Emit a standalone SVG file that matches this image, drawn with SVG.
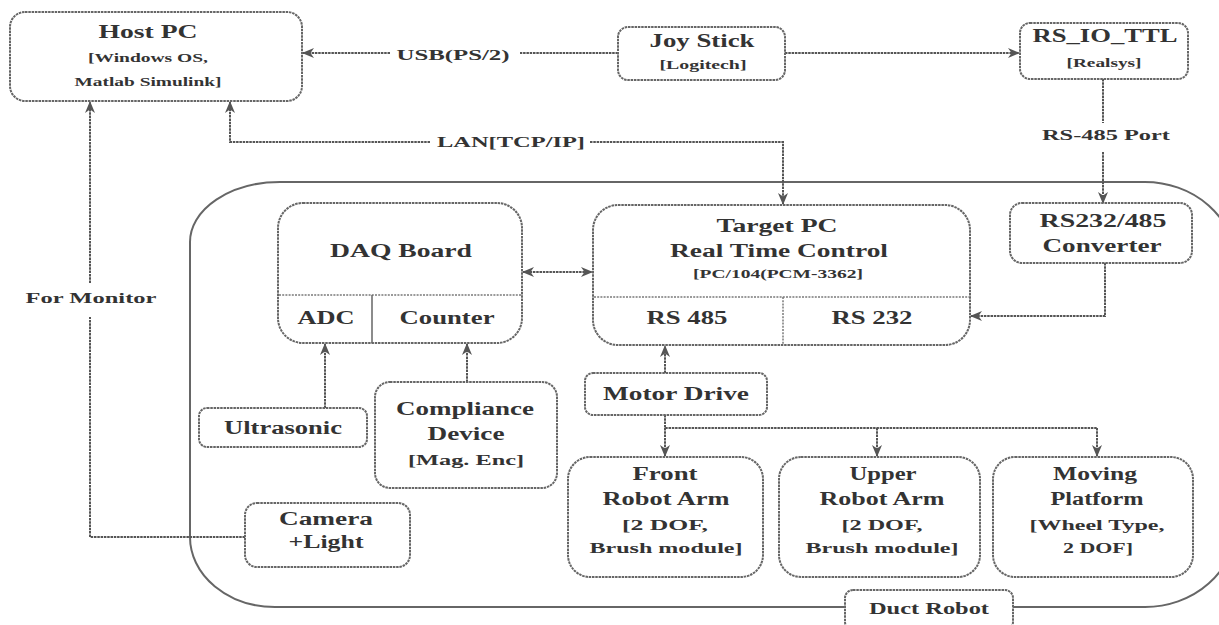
<svg xmlns="http://www.w3.org/2000/svg" width="1219" height="625" viewBox="0 0 1219 625">
<style>
.box{fill:#fff;stroke:#666;stroke-width:2;stroke-dasharray:2.5 0.8}
.div{fill:none;stroke:#7a7a7a;stroke-width:1.5;stroke-dasharray:2 1.2}
.vdiv{fill:none;stroke:#666;stroke-width:1.5}
.outer{fill:none;stroke:#666;stroke-width:2}
.ln{fill:none;stroke:#555;stroke-width:2;stroke-dasharray:2.5 0.8}
.t{font-family:"Liberation Serif","Times New Roman",serif;font-weight:bold;fill:#333;text-anchor:middle}
.l{font-size:18px}.m{font-size:15px}.s{font-size:12px}
</style>
<defs>
<marker id="ah" viewBox="0 0 12 10" refX="11" refY="5" markerWidth="12" markerHeight="10" markerUnits="userSpaceOnUse" orient="auto-start-reverse">
<path d="M0,0 L12,5 L0,10 L3.5,5 Z" fill="#555"/>
</marker>
</defs>

<g id="duct-robot-region">
<path class="outer" d="M190,242 A90,60 0 0 1 280,182 H1145 A90,80 0 0 1 1235,262 V527 A90,80 0 0 1 1145,607 H275 A85,70 0 0 1 190,537 Z"/>
</g>

<g id="connectors">
<path class="ln" d="M618,53 H520" />
<path class="ln" d="M390,53 H303" marker-end="url(#ah)"/>
<path class="ln" d="M785,53 H1019" marker-end="url(#ah)"/>
<path class="ln" d="M1103,79 V123" />
<path class="ln" d="M1103,152 V203" marker-end="url(#ah)"/>
<path class="ln" d="M430,142 H230 V102" marker-end="url(#ah)"/>
<path class="ln" d="M590,142 H783 V204" marker-end="url(#ah)"/>
<path class="ln" d="M245,537 H90 V317" />
<path class="ln" d="M90,283 V102" marker-end="url(#ah)"/>
<path class="ln" d="M523,272 H592" marker-start="url(#ah)" marker-end="url(#ah)"/>
<path class="ln" d="M325,408 V344" marker-end="url(#ah)"/>
<path class="ln" d="M467,382 V344" marker-end="url(#ah)"/>
<path class="ln" d="M665,373 V346" marker-end="url(#ah)"/>
<path class="ln" d="M665,415 V428 H1097" />
<path class="ln" d="M665,428 V456" marker-end="url(#ah)"/>
<path class="ln" d="M877,428 V456" marker-end="url(#ah)"/>
<path class="ln" d="M1097,428 V456" marker-end="url(#ah)"/>
<path class="ln" d="M1105,263 V316 H971" marker-end="url(#ah)"/>
<text class="t m" x="453" y="60" textLength="113" lengthAdjust="spacingAndGlyphs">USB(PS/2)</text>
<text class="t m" x="1106" y="140" textLength="128" lengthAdjust="spacingAndGlyphs">RS-485 Port</text>
<text class="t m" x="511" y="147" textLength="148" lengthAdjust="spacingAndGlyphs">LAN[TCP/IP]</text>
<text class="t m" x="91" y="303" textLength="131" lengthAdjust="spacingAndGlyphs">For Monitor</text>
</g>

<g id="host-pc">
<rect class="box" x="10" y="12" width="292" height="89" rx="15"/>
<text class="t" style="font-size:19px" x="148" y="38" textLength="99" lengthAdjust="spacingAndGlyphs">Host PC</text>
<text class="t" style="font-size:13px" x="148" y="62" textLength="120" lengthAdjust="spacingAndGlyphs">[Windows OS,</text>
<text class="t" style="font-size:13px" x="148" y="86" textLength="147" lengthAdjust="spacingAndGlyphs">Matlab Simulink]</text>
</g>

<g id="joy-stick">
<rect class="box" x="618" y="27" width="167" height="53" rx="10"/>
<text class="t l" x="702" y="47" textLength="105" lengthAdjust="spacingAndGlyphs">Joy Stick</text>
<text class="t s" x="703" y="69" textLength="87" lengthAdjust="spacingAndGlyphs">[Logitech]</text>
</g>

<g id="rs-io-ttl">
<rect class="box" x="1020" y="23" width="168" height="56" rx="10"/>
<text class="t l" x="1105" y="42" textLength="145" lengthAdjust="spacingAndGlyphs">RS_IO_TTL</text>
<text class="t s" x="1104" y="67" textLength="75" lengthAdjust="spacingAndGlyphs">[Realsys]</text>
</g>

<g id="converter">
<rect class="box" x="1010" y="203" width="182" height="60" rx="12"/>
<text class="t l" x="1103" y="227" textLength="127" lengthAdjust="spacingAndGlyphs">RS232/485</text>
<text class="t l" x="1102" y="252" textLength="119" lengthAdjust="spacingAndGlyphs">Converter</text>
</g>

<g id="daq-board">
<rect class="box" x="278" y="203" width="244" height="140" rx="25"/>
<path class="div" d="M279,295 H521"/>
<path class="vdiv" d="M372,295 V343"/>
<text class="t l" x="401" y="257" textLength="142" lengthAdjust="spacingAndGlyphs">DAQ Board</text>
<text class="t l" x="326" y="324" textLength="57" lengthAdjust="spacingAndGlyphs">ADC</text>
<text class="t l" x="447" y="324" textLength="95" lengthAdjust="spacingAndGlyphs">Counter</text>
</g>

<g id="target-pc">
<rect class="box" x="593" y="205" width="377" height="140" rx="25"/>
<path class="div" d="M594,297 H969"/>
<path class="div" d="M783,297 V345"/>
<text class="t l" x="777" y="232" textLength="121" lengthAdjust="spacingAndGlyphs">Target PC</text>
<text class="t l" x="779" y="257" textLength="218" lengthAdjust="spacingAndGlyphs">Real Time  Control</text>
<text class="t s" x="778" y="278" textLength="170" lengthAdjust="spacingAndGlyphs">[PC/104(PCM-3362]</text>
<text class="t l" x="687" y="324" textLength="81" lengthAdjust="spacingAndGlyphs">RS 485</text>
<text class="t l" x="872" y="324" textLength="81" lengthAdjust="spacingAndGlyphs">RS 232</text>
</g>

<g id="motor-drive">
<rect class="box" x="585" y="373" width="182" height="42" rx="8"/>
<text class="t l" x="676" y="400" textLength="146" lengthAdjust="spacingAndGlyphs">Motor Drive</text>
</g>

<g id="ultrasonic">
<rect class="box" x="199" y="408" width="168" height="39" rx="8"/>
<text class="t l" x="283" y="434" textLength="118" lengthAdjust="spacingAndGlyphs">Ultrasonic</text>
</g>

<g id="compliance-device">
<rect class="box" x="375" y="382" width="182" height="106" rx="15"/>
<text class="t l" x="465" y="415" textLength="138" lengthAdjust="spacingAndGlyphs">Compliance</text>
<text class="t l" x="466" y="440" textLength="77" lengthAdjust="spacingAndGlyphs">Device</text>
<text class="t m" x="466" y="465" textLength="116" lengthAdjust="spacingAndGlyphs">[Mag. Enc]</text>
</g>

<g id="camera-light">
<rect class="box" x="245" y="503" width="165" height="64" rx="12"/>
<text class="t l" x="326" y="525" textLength="94" lengthAdjust="spacingAndGlyphs">Camera</text>
<text class="t l" x="326" y="548" textLength="75" lengthAdjust="spacingAndGlyphs">+Light</text>
</g>

<g id="front-robot-arm">
<rect class="box" x="568" y="457" width="195" height="120" rx="22"/>
<text class="t l" x="665" y="480" textLength="65" lengthAdjust="spacingAndGlyphs">Front</text>
<text class="t l" x="666" y="505" textLength="127" lengthAdjust="spacingAndGlyphs">Robot Arm</text>
<text class="t m" x="665" y="530" textLength="86" lengthAdjust="spacingAndGlyphs">[2 DOF,</text>
<text class="t m" x="666" y="553" textLength="153" lengthAdjust="spacingAndGlyphs">Brush module]</text>
</g>

<g id="upper-robot-arm">
<rect class="box" x="779" y="457" width="201" height="120" rx="22"/>
<text class="t l" x="883" y="480" textLength="67" lengthAdjust="spacingAndGlyphs">Upper</text>
<text class="t l" x="882" y="505" textLength="125" lengthAdjust="spacingAndGlyphs">Robot Arm</text>
<text class="t m" x="882" y="530" textLength="81" lengthAdjust="spacingAndGlyphs">[2 DOF,</text>
<text class="t m" x="882" y="553" textLength="153" lengthAdjust="spacingAndGlyphs">Brush module]</text>
</g>

<g id="moving-platform">
<rect class="box" x="993" y="457" width="200" height="120" rx="22"/>
<text class="t l" x="1095" y="480" textLength="84" lengthAdjust="spacingAndGlyphs">Moving</text>
<text class="t l" x="1097" y="505" textLength="93" lengthAdjust="spacingAndGlyphs">Platform</text>
<text class="t m" x="1097" y="530" textLength="135" lengthAdjust="spacingAndGlyphs">[Wheel Type,</text>
<text class="t m" x="1098" y="553" textLength="70" lengthAdjust="spacingAndGlyphs">2 DOF]</text>
</g>

<g id="duct-robot-label">
<rect class="box" x="845" y="590" width="168" height="40" rx="8"/>
<text class="t" style="font-size:16px" x="929" y="614" textLength="120" lengthAdjust="spacingAndGlyphs">Duct Robot</text>
</g>
</svg>
